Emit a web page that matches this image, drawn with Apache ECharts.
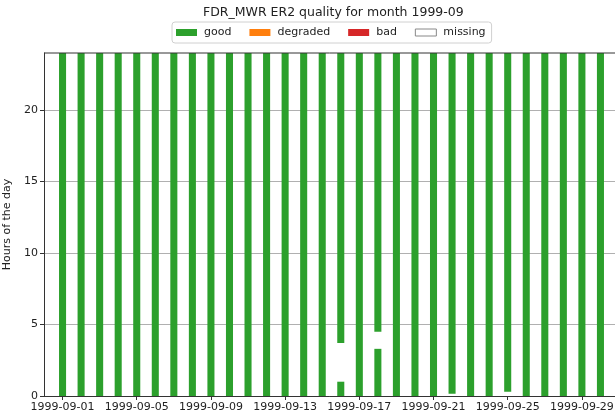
<!DOCTYPE html>
<html>
<head>
<meta charset="utf-8">
<script src="https://cdn.jsdelivr.net/npm/echarts@6/dist/echarts.min.js"></script>
<style>html,body{margin:0;padding:0;background:#fff}#c{width:615px;height:414px}</style>
</head>
<body>
<div id="c"></div>
<script>
// Days of September 1999
const days = [1,2,3,4,5,6,7,8,9,10,11,12,13,14,15,16,17,18,19,20,21,22,23,24,25,26,27,28,29,30];
// Segments per day: [day, startHour, endHour, status]
const segments = [
  [1,0,24,'good'],[2,0,24,'good'],[3,0,24,'good'],[4,0,24,'good'],[5,0,24,'good'],
  [6,0,24,'good'],[7,0,24,'good'],[8,0,24,'good'],[9,0,24,'good'],[10,0,24,'good'],
  [11,0,24,'good'],[12,0,24,'good'],[13,0,24,'good'],[14,0,24,'good'],[15,0,24,'good'],
  [16,0,1.0,'good'],[16,1.0,3.7,'missing'],[16,3.7,24,'good'],
  [17,0,24,'good'],
  [18,0,3.3,'good'],[18,3.3,4.5,'missing'],[18,4.5,24,'good'],
  [19,0,24,'good'],[20,0,24,'good'],[21,0,24,'good'],
  [22,0,0.15,'missing'],[22,0.15,24,'good'],
  [23,0,24,'good'],[24,0,24,'good'],
  [25,0,0.3,'missing'],[25,0.3,24,'good'],
  [26,0,24,'good'],[27,0,24,'good'],[28,0,24,'good'],[29,0,24,'good'],[30,0,24,'good']
];
const statusNames = ['good','degraded','bad','missing'];
const statusColors = {good:'#2ca02c', degraded:'#ff7f0e', bad:'#d62728', missing:'#ffffff'};
const xTickLabels = ['1999-09-01','1999-09-05','1999-09-09','1999-09-13','1999-09-17','1999-09-21','1999-09-25','1999-09-29'];
const yTicks = [0,5,10,15,20];
const titleText = 'FDR_MWR ER2 quality for month 1999-09';
const yLabel = 'Hours of the day';

const xTickPos = xTickLabels.map(s => parseInt(s.slice(8), 10));
const labelByPos = {};
xTickLabels.forEach((s, i) => { labelByPos[xTickPos[i]] = s; });

const FONT = 'DejaVu Sans';
const chart = echarts.init(document.getElementById('c'), null, {renderer: 'canvas'});

const series = statusNames.map(name => ({
  name: name,
  type: 'custom',
  itemStyle: {color: statusColors[name], borderColor: name === 'missing' ? '#999' : statusColors[name]},
  renderItem: function (params, api) {
    const d = api.value(0), s = api.value(1), e = api.value(2);
    const p0 = api.coord([d, s]);
    const p1 = api.coord([d, e]);
    const w = api.size([0.38, 0])[0];
    if (name === 'missing') return null;
    return {
      type: 'rect',
      shape: {x: p0[0] - w / 2, y: p1[1], width: w, height: p0[1] - p1[1]},
      style: {fill: statusColors[name]}
    };
  },
  data: segments.filter(r => r[3] === name).map(r => [r[0], r[1], r[2]]),
  z: 2
}));

chart.setOption({
  animation: false,
  textStyle: {fontFamily: FONT},
  title: {
    text: titleText, left: 203, top: 6, padding: 0,
    textStyle: {fontFamily: FONT, fontSize: 12.5, fontWeight: 'normal', color: '#222'}
  },
  legend: {
    top: 22, left: 172,
    data: statusNames.map(n => ({name: n, itemStyle: {color: statusColors[n], borderColor: n === 'missing' ? '#888' : statusColors[n], borderWidth: n === 'missing' ? 1 : 0}})),
    icon: 'rect', itemWidth: 21, itemHeight: 7, itemGap: 18,
    textStyle: {fontFamily: FONT, fontSize: 11, color: '#222', padding: [0, 0, 0, 2]},
    borderColor: '#d0d0d0', borderWidth: 1, borderRadius: 3, padding: [5, 6, 5, 4]
  },
  grid: {left: 44, right: -4, top: 53, bottom: 18, containLabel: false, outerBoundsMode: 'none'},
  xAxis: {
    type: 'value', min: 0, max: 31,
    axisLine: {show: true, onZero: false, lineStyle: {color: '#333'}},
    axisTick: {show: true, customValues: xTickPos, length: 4, lineStyle: {color: '#333'}},
    axisLabel: {customValues: xTickPos, formatter: v => labelByPos[v] || '', fontFamily: FONT, fontSize: 11, color: '#222', margin: 6},
    splitLine: {show: false}
  },
  yAxis: {
    type: 'value', min: 0, max: 24,
    name: yLabel, nameLocation: 'middle', nameGap: 23, nameRotate: 90,
    nameTextStyle: {fontFamily: FONT, fontSize: 11, color: '#222'},
    axisLine: {show: true, lineStyle: {color: '#333'}},
    axisTick: {show: true, customValues: yTicks, length: 4, lineStyle: {color: '#333'}},
    axisLabel: {customValues: yTicks, fontFamily: FONT, fontSize: 11, color: '#222', margin: 6},
    splitLine: {show: true, lineStyle: {color: '#b0b0b0', width: 1}},
    interval: 5
  },
  graphic: [{
    type: 'line', z: 10,
    shape: {x1: 44, y1: 53, x2: 615, y2: 53},
    style: {stroke: '#333', lineWidth: 1}
  }],
  series: series
});
</script>
</body>
</html>
